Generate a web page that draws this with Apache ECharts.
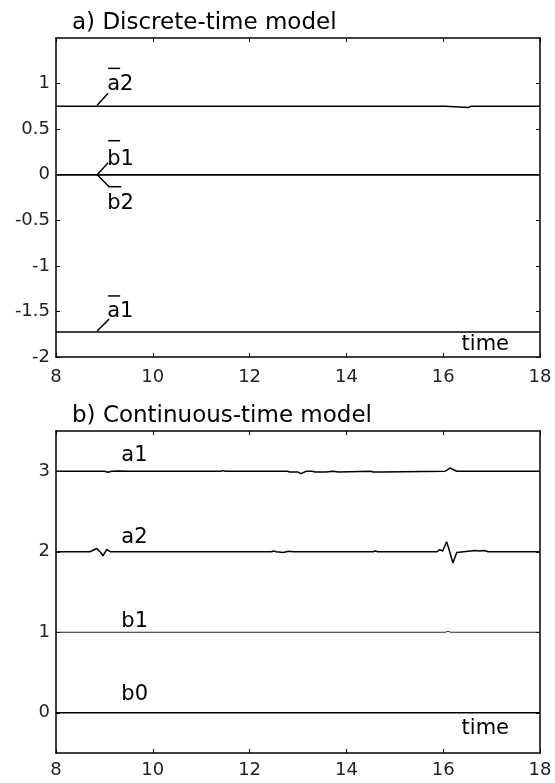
<!DOCTYPE html>
<html><head><meta charset="utf-8">
<script src="https://cdn.jsdelivr.net/npm/echarts@6/dist/echarts.min.js"></script>
<style>html,body{margin:0;padding:0;background:#fff}#c{width:555px;height:783px}</style>
</head><body><div id="c"></div>
<script>
// ---- data ----
var xTicks = [8, 10, 12, 14, 16, 18];
var yTicksA = [-2, -1.5, -1, -0.5, 0, 0.5, 1];
var yTicksB = [0, 1, 2, 3];

// a) discrete-time model
var tA2 = [8, 16.04, 16.08, 16.52, 16.57, 18];
var vA2 = [0.75, 0.75, 0.738, 0.738, 0.75, 0.75];
var tA1 = [8, 18];
var vA1 = [-1.725, -1.725];
var tB1d = [8, 18];
var vB1d = [0, 0];
var tB2d = [8, 18];
var vB2d = [0, 0];

// b) continuous-time model
var tCa1 = [8, 9.0, 9.07, 9.15, 9.3, 9.5, 11.4, 11.45, 11.5, 12.78, 12.83, 13.0, 13.06, 13.17, 13.3, 13.35, 13.58, 13.62, 13.72, 13.76, 13.84, 13.87, 14.5, 14.55, 14.72, 14.76, 16.04, 16.14, 16.28, 18];
var vCa1 = [3, 3, 2.988, 3, 3.004, 3, 3, 3.008, 3, 3, 2.99, 2.99, 2.97, 3, 3, 2.99, 2.99, 3, 3, 2.99, 2.99, 3, 3, 2.99, 2.99, 3, 3, 3.04, 3, 3];
var tCa2 = [8, 8.70, 8.84, 8.91, 8.97, 9.05, 9.12, 12.45, 12.5, 12.55, 12.7, 12.8, 12.9, 14.55, 14.6, 14.65, 15.87, 15.93, 15.99, 16.07, 16.14, 16.20, 16.28, 16.31, 16.66, 16.75, 16.85, 16.93, 18];
var vCa2 = [2, 2, 2.04, 2.0, 1.95, 2.03, 2, 2, 2.01, 2, 1.99, 2.005, 2, 2, 2.01, 2, 2, 2.025, 2.01, 2.124, 1.99, 1.86, 1.99, 2, 2.015, 2.01, 2.015, 2, 2];
var tCb1 = [8, 16.05, 16.1, 16.15, 18];
var vCb1 = [1, 1, 1.012, 1, 1];
var tCb0 = [8, 18];
var vCb0 = [0, 0];

function pairs(t, v) { return t.map(function (x, i) { return [x, v[i]]; }); }

var FONT = 'DejaVu Sans';
var chart = echarts.init(document.getElementById('c'));

function xAx(grid, pos, show, margin) {
  return {
    type: 'value', gridIndex: grid, position: pos, min: 8, max: 18, interval: 2,
    axisLine: { show: true, onZero: false, lineStyle: { color: '#000', width: 1.5 } },
    axisTick: { show: true, inside: true, length: 4, customValues: xTicks, lineStyle: { color: '#000', width: 1 } },
    axisLabel: { show: show, margin: margin || 8, customValues: xTicks, fontFamily: FONT, fontSize: 18, color: '#222' },
    splitLine: { show: false }
  };
}
function yAx(grid, pos, show, min, max, ticks) {
  return {
    type: 'value', gridIndex: grid, position: pos, min: min, max: max,
    axisLine: { show: true, onZero: false, lineStyle: { color: '#000', width: 1.5 } },
    axisTick: { show: true, inside: true, length: 4, customValues: ticks, lineStyle: { color: '#000', width: 1 } },
    axisLabel: { show: show, margin: 6, customValues: ticks, fontFamily: FONT, fontSize: 18, color: '#222' },
    splitLine: { show: false }
  };
}
function line(xi, yi, data, w, c) {
  return { type: 'line', xAxisIndex: xi, yAxisIndex: yi, data: data, showSymbol: false, symbol: 'none',
    lineStyle: { color: c || '#000', width: w }, animation: false, silent: true };
}

var option = {
  animation: false,
  backgroundColor: '#fff',
  title: [
    { text: 'a) Discrete-time model', left: 72, top: 12, padding: 0,
      textStyle: { fontFamily: FONT, fontSize: 23, fontWeight: 'normal', color: '#000' } },
    { text: 'b) Continuous-time model', left: 72, top: 405, padding: 0,
      textStyle: { fontFamily: FONT, fontSize: 23, fontWeight: 'normal', color: '#000' } }
  ],
  grid: [
    { left: 56, width: 484, top: 38, height: 319 },
    { left: 56, width: 484, top: 431, height: 322 }
  ],
  xAxis: [xAx(0, 'bottom', true, 11), xAx(0, 'top', false), xAx(1, 'bottom', true, 8), xAx(1, 'top', false)],
  yAxis: [
    yAx(0, 'left', true, -2, 1.5, yTicksA), yAx(0, 'right', false, -2, 1.5, yTicksA),
    yAx(1, 'left', true, -0.5, 3.5, yTicksB), yAx(1, 'right', false, -0.5, 3.5, yTicksB)
  ],
  series: [
    line(0, 0, pairs(tA2, vA2), 1.5),
    line(0, 0, pairs(tA1, vA1), 1.5),
    line(0, 0, pairs(tB1d, vB1d), 1.5),
    line(0, 0, pairs(tB2d, vB2d), 1.5),
    line(2, 2, pairs(tCa1, vCa1), 1.5),
    line(2, 2, pairs(tCa2, vCa2), 1.5),
    line(2, 2, pairs(tCb1, vCb1), 1, '#222'),
    line(2, 2, pairs(tCb0, vCb0), 1.5)
  ]
};
chart.setOption(option);

// ---- annotations anchored to data coordinates ----
function px(xi, yi, pt) { return chart.convertToPixel({ xAxisIndex: xi, yAxisIndex: yi }, pt); }
var g = [];
function txt(x, y, s, size, align) {
  g.push({ type: 'text', x: x, y: y, silent: true,
    style: { text: s, fontFamily: FONT, fontSize: size || 21, fill: '#000', textAlign: align || 'left', textVerticalAlign: 'middle' } });
}
function seg(x1, y1, x2, y2, w) {
  g.push({ type: 'line', silent: true, shape: { x1: x1, y1: y1, x2: x2, y2: y2 },
    style: { stroke: '#000', lineWidth: w || 1.5 } });
}
var ax = 8.85;
// a2 bar
var p = px(0, 0, [ax, vA2[0]]);
seg(p[0], p[1] - 1, p[0] + 11, p[1] - 13);
txt(p[0] + 10, p[1] - 22, 'a2');
seg(p[0] + 11, p[1] - 38, p[0] + 23, p[1] - 38, 1.5);
// b1 / b2 bar
p = px(0, 0, [ax, vB1d[0]]);
seg(p[0], p[1], p[0] + 11, p[1] - 12);
txt(p[0] + 10, p[1] - 15, 'b1');
seg(p[0] + 11, p[1] - 34, p[0] + 23, p[1] - 34, 1.5);
seg(p[0], p[1], p[0] + 12, p[1] + 12);
seg(p[0] + 11, p[1] + 12, p[0] + 24, p[1] + 12, 1.5);
txt(p[0] + 10, p[1] + 29, 'b2');
// a1 bar
p = px(0, 0, [ax, vA1[0]]);
seg(p[0], p[1] - 1, p[0] + 12, p[1] - 13);
txt(p[0] + 10, p[1] - 20, 'a1');
seg(p[0] + 11, p[1] - 36, p[0] + 23, p[1] - 36, 1.5);
// time labels
p = px(0, 0, [16.87, -2]);
txt(p[0], p[1] - 12, 'time', 21, 'center');
p = px(2, 2, [16.87, -0.5]);
txt(p[0], p[1] - 24, 'time', 21, 'center');
// continuous labels
p = px(2, 2, [9.35, vCa1[0]]); txt(p[0], p[1] - 16, 'a1');
p = px(2, 2, [9.35, vCa2[0]]); txt(p[0], p[1] - 14, 'a2');
p = px(2, 2, [9.35, vCb1[0]]); txt(p[0], p[1] - 11, 'b1');
p = px(2, 2, [9.35, vCb0[0]]); txt(p[0], p[1] - 18, 'b0');
chart.setOption({ graphic: g });
</script></body></html>
